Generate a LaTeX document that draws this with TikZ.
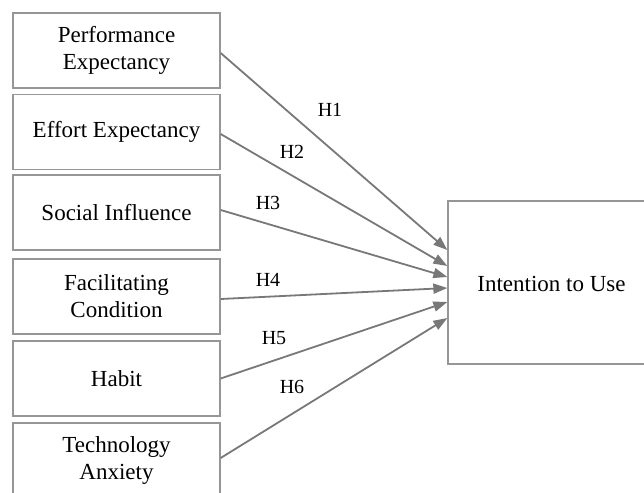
\documentclass[tikz,border=0pt]{standalone}
\usepackage{fontspec}
\setmainfont{Liberation Serif}
\usetikzlibrary{arrows.meta}
\definecolor{boxgray}{RGB}{150,150,150}
\definecolor{arrgray}{RGB}{120,120,120}
\tikzset{
  cbox/.style={draw=boxgray, line width=1.3pt, minimum width=207pt, minimum height=75pt, inner sep=0pt, align=center, font=\fontsize{23}{27}\selectfont, text=black},
  hyp/.style={-{Triangle[length=14pt,width=10pt]}, draw=arrgray, fill=arrgray, line width=1.8pt},
  hlab/.style={font=\fontsize{20}{24}\selectfont, text=black, inner sep=0pt}
}
\begin{document}
\begin{tikzpicture}[x=1pt,y=-1pt]
\useasboundingbox (0,0) rectangle (644,492);
\node[cbox] (pe) at (116.5,50.5) {Performance\\Expectancy};
\node[cbox] (ee) at (116.5,132) {Effort Expectancy};
\node[cbox] (si) at (116.5,212.5) {Social Influence};
\node[cbox] (fc) at (116.5,296.5) {Facilitating\\Condition};
\node[cbox] (hb) at (116.5,378.5) {Habit};
\node[cbox] (ta) at (116.5,460.5) {Technology\\Anxiety};
\node[cbox, minimum width=200pt, minimum height=163pt] (iu) at (548,282.5) {};
\node[font=\fontsize{23}{27}\selectfont, inner sep=0pt] (iut) at (551.5,284) {Intention to Use};
\coordinate (e1) at ([yshift=32.5pt]iu.west);
\coordinate (e2) at ([yshift=16.5pt]iu.west);
\coordinate (e3) at ([yshift=5.5pt]iu.west);
\coordinate (e4) at ([yshift=-5.5pt]iu.west);
\coordinate (e5) at ([yshift=-19.5pt]iu.west);
\coordinate (e6) at ([yshift=-35.5pt]iu.west);
\draw[hyp] ([yshift=-2.5pt]pe.east) -- (e1);
\draw[hyp] ([yshift=-2pt]ee.east) -- (e2);
\draw[hyp] ([yshift=2.5pt]si.east) -- (e3);
\draw[hyp] ([yshift=-2.5pt]fc.east) -- (e4);
\draw[hyp] (hb.east) -- (e5);
\draw[hyp] ([yshift=2.5pt]ta.east) -- (e6);
\node[hlab] (h1) at (330,110) {H1};
\node[hlab] (h2) at (292,152) {H2};
\node[hlab] (h3) at (268,203) {H3};
\node[hlab] (h4) at (268,280) {H4};
\node[hlab] (h5) at (274,338) {H5};
\node[hlab] (h6) at (292,387) {H6};
\end{tikzpicture}
\end{document}
